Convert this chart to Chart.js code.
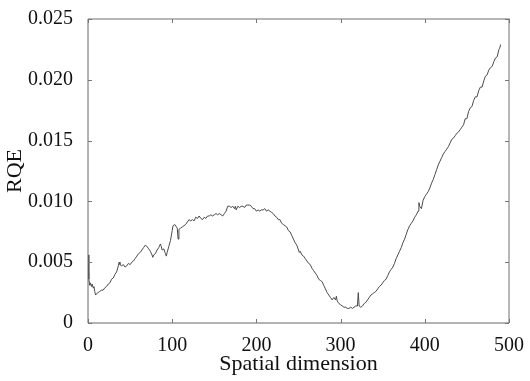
<!DOCTYPE html>
<html>
<head>
<meta charset="utf-8">
<script src="https://cdn.jsdelivr.net/npm/chart.js@4"></script>
<style>
html,body{margin:0;padding:0;background:#fff;}
canvas{display:block;}
</style>
</head>
<body>
<canvas id="c" width="530" height="381"></canvas>
<script>
const xTicks = [0, 100, 200, 300, 400, 500];
const yTicks = [0, 0.005, 0.010, 0.015, 0.020, 0.025];
const xLabel = 'Spatial dimension';
const yLabel = 'RQE';

const position = [0,1,2,3,4,5,6,7,8,9,10,12,14,16,18,20,22,24,26,28,30,32,34,36,37,38,40,42,44,46,48,50,52,54,56,58,60,62,64,66,68,70,72,74,76,77,78,80,82,84,86,87,88,90,92,93,94,96,98,100,101,103,105,106,107,108,110,112,114,116,118,120,122,124,126,128,130,132,134,136,138,140,142,144,146,148,150,152,154,156,158,160,162,164,166,168,170,172,174,175,176,178,180,182,184,186,188,190,192,194,196,198,200,202,204,206,208,210,212,214,216,218,220,222,224,226,228,230,232,234,236,238,240,242,244,246,248,250,251,252,254,256,258,260,262,264,266,268,270,272,274,276,278,280,282,284,286,288,290,292,294,295,296,298,300,302,304,306,308,310,312,314,316,318,320,321,322,324,326,328,330,332,334,336,338,340,342,344,346,348,350,352,354,356,358,360,362,364,366,368,370,372,374,376,378,380,382,384,386,388,390,392,393,394,396,398,400,402,404,406,408,410,412,414,416,418,420,422,424,426,428,430,432,434,436,438,440,442,444,446,448,450,452,454,456,458,460,462,464,466,468,470,472,474,476,478,480,482,484,486,488,489,490];

const rqe = [0.0056,0.0036,0.0031,0.0033,0.0030,0.0032,0.0029,0.0030,0.0026,0.0023,0.0024,0.0025,0.0026,0.0027,0.0027,0.0029,0.0030,0.0032,0.0033,0.0036,0.0037,0.0040,0.0042,0.0047,0.0050,0.0048,0.0047,0.0048,0.0046,0.0047,0.0049,0.0048,0.0050,0.0051,0.0053,0.0055,0.0057,0.0058,0.0060,0.0062,0.0064,0.0063,0.0061,0.0059,0.0056,0.0054,0.0056,0.0057,0.0060,0.0062,0.0065,0.0063,0.0060,0.0061,0.0057,0.0055,0.0058,0.0063,0.0068,0.0076,0.0080,0.0081,0.0079,0.0078,0.0069,0.0077,0.0078,0.0079,0.0080,0.0081,0.0083,0.0085,0.0084,0.0085,0.0084,0.0087,0.0086,0.0088,0.0086,0.0085,0.0087,0.0086,0.0088,0.0088,0.0089,0.0088,0.0089,0.0090,0.0089,0.0090,0.0089,0.0088,0.0090,0.0092,0.0096,0.0096,0.0095,0.0096,0.0094,0.0096,0.0093,0.0096,0.0095,0.0096,0.0096,0.0095,0.0097,0.0097,0.0097,0.0096,0.0094,0.0094,0.0092,0.0093,0.0092,0.0093,0.0093,0.0094,0.0092,0.0093,0.0092,0.0091,0.0090,0.0088,0.0087,0.0085,0.0085,0.0082,0.0081,0.0080,0.0079,0.0076,0.0075,0.0072,0.0069,0.0066,0.0064,0.0060,0.0058,0.0059,0.0056,0.0055,0.0053,0.0051,0.0049,0.0048,0.0045,0.0043,0.0041,0.0039,0.0036,0.0035,0.0034,0.0031,0.0028,0.0025,0.0023,0.0021,0.0019,0.0021,0.0019,0.0022,0.0018,0.0016,0.0015,0.0014,0.0013,0.0013,0.0012,0.0012,0.0013,0.0012,0.0013,0.0014,0.0014,0.0025,0.0014,0.0013,0.0014,0.0016,0.0017,0.0019,0.0021,0.0023,0.0024,0.0025,0.0026,0.0028,0.0030,0.0031,0.0033,0.0035,0.0036,0.0039,0.0042,0.0044,0.0046,0.0049,0.0053,0.0056,0.0059,0.0062,0.0066,0.0069,0.0073,0.0077,0.0080,0.0082,0.0084,0.0087,0.0089,0.0092,0.0099,0.0096,0.0094,0.0101,0.0104,0.0106,0.0108,0.0111,0.0115,0.0118,0.0122,0.0126,0.0130,0.0133,0.0136,0.0139,0.0141,0.0143,0.0145,0.0148,0.0151,0.0152,0.0154,0.0156,0.0157,0.0159,0.0161,0.0163,0.0168,0.0168,0.0174,0.0177,0.0178,0.0183,0.0186,0.0186,0.0191,0.0194,0.0194,0.0199,0.0203,0.0204,0.0208,0.0210,0.0211,0.0215,0.0218,0.0219,0.0225,0.0226,0.0229];

const points = position.map((x, i) => ({x: x, y: rqe[i]}));

const frame = {
  id: 'frame',
  afterDraw(chart) {
    const ctx = chart.ctx;
    const a = chart.chartArea;
    const xs = chart.scales.x, ys = chart.scales.y;
    ctx.save();
    ctx.strokeStyle = '#a0a0a0';
    ctx.lineWidth = 1.5;
    ctx.beginPath();
    ctx.moveTo(a.left, a.top); ctx.lineTo(a.right, a.top); ctx.lineTo(a.right, a.bottom);
    ctx.stroke();
    ctx.strokeStyle = '#666';
    ctx.lineWidth = 1;
    ctx.beginPath();
    ctx.moveTo(a.left, a.top); ctx.lineTo(a.left, a.bottom); ctx.lineTo(a.right, a.bottom);
    ctx.stroke();
    ctx.strokeStyle = '#777';
    ctx.beginPath();
    xTicks.forEach(v => {
      const p = Math.round(xs.getPixelForValue(v)) + 0.5;
      ctx.moveTo(p, a.bottom); ctx.lineTo(p, a.bottom - 4);
      ctx.moveTo(p, a.top); ctx.lineTo(p, a.top + 4);
    });
    yTicks.forEach(v => {
      const p = Math.round(ys.getPixelForValue(v)) + 0.5;
      ctx.moveTo(a.left, p); ctx.lineTo(a.left + 4, p);
      ctx.moveTo(a.right, p); ctx.lineTo(a.right - 4, p);
    });
    ctx.stroke();
    ctx.restore();
  }
};

const tickFont = { family: 'Liberation Serif', size: 20 };
const titleFont = { family: 'Liberation Serif', size: 22 };

new Chart(document.getElementById('c'), {
  type: 'scatter',
  data: {
    datasets: [{
      data: points,
      showLine: true,
      borderColor: '#4a4a4a',
      borderWidth: 1,
      pointRadius: 0,
      tension: 0
    }]
  },
  options: {
    responsive: false,
    animation: false,
    events: [],
    layout: { padding: { top: 11, right: 21, left: 0, bottom: 0 } },
    plugins: { legend: { display: false }, tooltip: { enabled: false } },
    scales: {
      x: {
        type: 'linear', min: 0, max: 500,
        afterBuildTicks: s => { s.ticks = xTicks.map(v => ({value: v})); },
        grid: { display: false },
        border: { display: false },
        ticks: { color: '#111', font: tickFont, padding: 3, maxRotation: 0 },
        title: { display: true, text: xLabel, color: '#111', font: titleFont, padding: { top: 0, bottom: 4 } },
        afterFit: s => { s.height = 58; }
      },
      y: {
        type: 'linear', min: 0, max: 0.025,
        afterBuildTicks: s => { s.ticks = yTicks.map(v => ({value: v})); },
        grid: { display: false },
        border: { display: false },
        ticks: { color: '#111', font: tickFont, padding: 7,
          callback: v => v === 0 ? '0' : v.toFixed(3) },
        title: { display: true, text: yLabel, color: '#111', font: titleFont, padding: { top: 2, bottom: 0 } },
        afterFit: s => { s.width = 88; }
      }
    }
  },
  plugins: [frame]
});
</script>
</body>
</html>
